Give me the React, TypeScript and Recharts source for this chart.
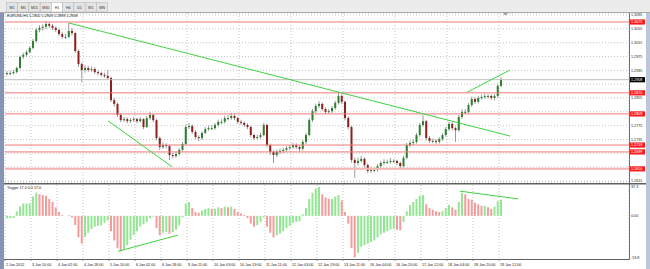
import {
  Bar,
  CartesianGrid,
  Cell,
  ComposedChart,
  ReferenceLine,
  XAxis,
  YAxis,
} from "recharts";

// EURUSD H1 (drawn as 2-hour bars), 2 Jan 18:00 -> 19 Jan 13:00
const firstOpen = 1.2925;

const closes = [
  1.2927, 1.2927, 1.293, 1.2942, 1.2974, 1.298, 1.2988, 1.3, 1.302, 1.3052,
  1.3058, 1.3061, 1.3069, 1.3064, 1.3058, 1.3052, 1.304, 1.3032, 1.3032, 1.3049,
  1.3043, 1.2991, 1.2953, 1.2936, 1.2942, 1.2936, 1.2939, 1.293, 1.2927, 1.2922,
  1.2919, 1.2913, 1.2849, 1.2838, 1.2806, 1.2791, 1.2794, 1.2788, 1.2791, 1.2794,
  1.2788, 1.2794, 1.2771, 1.2797, 1.2806, 1.2791, 1.2739, 1.2713, 1.2719, 1.2716,
  1.269, 1.2687, 1.2693, 1.2705, 1.2722, 1.2771, 1.2774, 1.2757, 1.2742, 1.2739,
  1.2754, 1.2765, 1.2768, 1.2768, 1.2777, 1.2786, 1.2786, 1.2797, 1.2797, 1.2803,
  1.2797, 1.2786, 1.2783, 1.2777, 1.2771, 1.2748, 1.2739, 1.2742, 1.2748, 1.2777,
  1.2719, 1.2699, 1.269, 1.2699, 1.2702, 1.2705, 1.271, 1.2713, 1.2719, 1.2713,
  1.2708, 1.2728, 1.2748, 1.2791, 1.2817, 1.2832, 1.2838, 1.2823, 1.2815, 1.2817,
  1.2826, 1.2841, 1.2861, 1.2844, 1.2797, 1.2771, 1.2676, 1.2667, 1.2673, 1.2679,
  1.2661, 1.2644, 1.2647, 1.2647, 1.2658, 1.2667, 1.267, 1.267, 1.2673, 1.2673,
  1.2667, 1.2658, 1.2682, 1.2719, 1.2725, 1.2728, 1.2748, 1.2777, 1.2788, 1.2739,
  1.2731, 1.2731, 1.2728, 1.2736, 1.2748, 1.2765, 1.278, 1.2768, 1.2762, 1.28,
  1.2815, 1.2815, 1.2835, 1.2852, 1.2844, 1.2855, 1.2858, 1.2861, 1.2861, 1.2855,
  1.2861, 1.289, 1.2908,
];

const highs = [
  1.2933, 1.2934, 1.2936, 1.2946, 1.2978, 1.2986, 1.2993, 1.3005, 1.3026, 1.3058,
  1.3066, 1.3068, 1.3077, 1.3075, 1.3069, 1.3062, 1.3056, 1.3046, 1.304, 1.3072,
  1.3058, 1.3047, 1.2996, 1.2958, 1.295, 1.2948, 1.2946, 1.2944, 1.2935, 1.2931,
  1.2928, 1.2936, 1.2917, 1.2855, 1.2842, 1.2812, 1.28, 1.2799, 1.2797, 1.28,
  1.2798, 1.28, 1.2797, 1.2803, 1.2815, 1.281, 1.2795, 1.2744, 1.2726, 1.2724,
  1.272, 1.2696, 1.2699, 1.271, 1.2728, 1.2778, 1.2783, 1.2779, 1.2762, 1.2747,
  1.2759, 1.2771, 1.2775, 1.2776, 1.2783, 1.2792, 1.2794, 1.2804, 1.2805, 1.2812,
  1.2808, 1.2801, 1.2792, 1.2788, 1.2782, 1.2775, 1.2752, 1.2749, 1.2755, 1.2783,
  1.2781, 1.2723, 1.2704, 1.2706, 1.2709, 1.2711, 1.2716, 1.2719, 1.2725, 1.2724,
  1.2718, 1.2734, 1.2755, 1.2797, 1.2824, 1.2839, 1.2846, 1.2842, 1.2828, 1.2824,
  1.2832, 1.2847, 1.2872, 1.2866, 1.2848, 1.2802, 1.2775, 1.2682, 1.2683, 1.2688,
  1.2684, 1.2666, 1.2655, 1.2654, 1.2664, 1.2673, 1.2678, 1.2677, 1.2681, 1.2679,
  1.2677, 1.2671, 1.2688, 1.2725, 1.2732, 1.2735, 1.2754, 1.2783, 1.2805, 1.2792,
  1.2745, 1.2738, 1.2736, 1.2742, 1.2753, 1.2771, 1.2787, 1.2785, 1.2772, 1.2806,
  1.2822, 1.2823, 1.2841, 1.2859, 1.2857, 1.2861, 1.2865, 1.2868, 1.2867, 1.2865,
  1.2867, 1.2897, 1.2916,
];

const lows = [
  1.292, 1.2921, 1.2923, 1.2926, 1.2938, 1.2968, 1.2975, 1.2984, 1.2996, 1.3015,
  1.3045, 1.305, 1.3055, 1.3058, 1.3052, 1.3046, 1.3035, 1.3027, 1.3026, 1.3028,
  1.3036, 1.2985, 1.2945, 1.2901, 1.2928, 1.293, 1.2931, 1.2925, 1.2921, 1.2917,
  1.2913, 1.2908, 1.2843, 1.283, 1.28, 1.2785, 1.2786, 1.2782, 1.2783, 1.2786,
  1.2782, 1.2784, 1.2765, 1.2768, 1.2792, 1.2785, 1.2733, 1.2705, 1.2708, 1.2709,
  1.2676, 1.268, 1.2682, 1.2688, 1.27, 1.2718, 1.2765, 1.2751, 1.2736, 1.2731,
  1.2734, 1.275, 1.276, 1.2762, 1.2763, 1.2772, 1.2779, 1.2781, 1.279, 1.2792,
  1.2791, 1.278, 1.2777, 1.2771, 1.2765, 1.2742, 1.2733, 1.2735, 1.2737, 1.2744,
  1.2712, 1.269, 1.2667, 1.2684, 1.2693, 1.2696, 1.27, 1.2704, 1.2708, 1.2707,
  1.27, 1.2703, 1.2722, 1.2744, 1.2786, 1.2811, 1.2826, 1.2817, 1.2809, 1.281,
  1.2812, 1.2821, 1.2836, 1.2838, 1.279, 1.2764, 1.2668, 1.2624, 1.266, 1.2668,
  1.2654, 1.2637, 1.2638, 1.264, 1.2642, 1.2652, 1.2662, 1.2664, 1.2665, 1.2667,
  1.2661, 1.265, 1.2654, 1.2678, 1.2713, 1.2719, 1.2723, 1.2743, 1.2772, 1.2732,
  1.2725, 1.2724, 1.2722, 1.2723, 1.2731, 1.2743, 1.276, 1.2762, 1.2728, 1.2757,
  1.2795, 1.2808, 1.281, 1.2829, 1.2838, 1.2839, 1.285, 1.2853, 1.2854, 1.2849,
  1.2848, 1.2856, 1.2886,
];

// "Trigger 17.0 0.0 17.0" histogram
const trigger = [
  -3, -3, -3, 6, 12, 16, 16, 16, 25, 30,
  28, 27, 26, 22, 18, 11, 5, 1, 0, 1,
  -2, -12, -28, -36, -27, -22, -17, -14, -13, -12,
  -9, -6, -20, -32, -42, -46, -43, -38, -31, -25,
  -20, -14, -11, -8, -3, -1, -16, -25, -22, -21,
  -23, -21, -18, -12, -2, 16, 18, 10, 5, 4,
  7, 9, 10, 9, 9, 11, 10, 12, 11, 12,
  9, 5, 3, 1, -3, -10, -14, -12, -8, -2,
  -14, -22, -28, -25, -23, -20, -16, -13, -9, -8,
  -7, 2, 10, 22, 30, 35, 37.3, 28, 24, 22,
  22, 25, 27, 20, 5, -10, -42, -53.8, -48, -40,
  -38, -36, -34, -32, -28, -24, -22, -20, -18, -17,
  -18, -19, -8, 6, 14, 18, 22, 26, 27, 15,
  10, 8, 6, 5, 6, 10, 14, 11, 8, 18,
  30, 28, 22, 21, 17, 15, 13, 13, 11, 9,
  12, 19, 21,
];

const timeLabels = [
  "2 Jan 2012", "3 Jan 10:00", "4 Jan 02:00", "4 Jan 18:00", "5 Jan 10:00",
  "6 Jan 02:00", "6 Jan 18:00", "9 Jan 11:00", "10 Jan 03:00", "10 Jan 19:00",
  "11 Jan 11:00", "12 Jan 03:00", "12 Jan 19:00", "13 Jan 11:00", "16 Jan 04:00",
  "16 Jan 20:00", "17 Jan 12:00", "18 Jan 04:00", "18 Jan 20:00", "19 Jan 12:00",
];

const priceTicks = [
  1.3095, 1.3055, 1.3015, 1.2975, 1.2935, 1.2895, 1.2855, 1.2815, 1.2775,
  1.2735, 1.2695, 1.2655, 1.2615,
];

const levels = [1.3075, 1.287, 1.2809, 1.2719, 1.2699, 1.265];
const triggerTicks = [37.3, 0, -53.8];

const priceTrendLines = [
  [{ x: 19.2, y: 1.3072 }, { x: 154.9, y: 1.2745 }],
  [{ x: 31.2, y: 1.2789 }, { x: 50.9, y: 1.2656 }],
  [{ x: 141.7, y: 1.2872 }, { x: 154.9, y: 1.2936 }],
];

const triggerTrendLines = [
  [{ x: 34.3, y: -46 }, { x: 52.7, y: -25 }],
  [{ x: 139.5, y: 32 }, { x: 157.4, y: 22 }],
];

const tabs = ["M1", "M5", "M15", "M30", "H1", "H4", "D1", "W1", "MN"];

const FONT = "'Liberation Sans', Arial, sans-serif";
const FS = 3.7;
const X_DOMAIN: [number, number] = [-0.5, 191.5];
const timeTicks = timeLabels.map((_, k) => k * 8 - 0.5);
const lastClose = closes[closes.length - 1];

const rows = closes.map((close, i) => ({
  i,
  open: i === 0 ? firstOpen : closes[i - 1],
  high: highs[i],
  low: lows[i],
  close,
  range: [lows[i], highs[i]],
}));

const triggerRows = trigger.map((v, i) => ({ i, v }));

// scale labels hidden under a price tag (as the terminal does)
function coveredByTag(v: number) {
  return [...levels, lastClose].some((p) => Math.abs(p - v) < 0.0014);
}

function Candle(props: any) {
  const { x, y, width, height, payload } = props;
  if (!payload) return null;
  const top = Math.min(y, y + height);
  const h = Math.abs(height);
  const k = h / (payload.high - payload.low || 0.0001);
  const up = payload.close >= payload.open;
  const bodyTop =
    top + (payload.high - Math.max(payload.open, payload.close)) * k;
  const bodyH = Math.max(
    1,
    Math.abs(payload.close - payload.open) * k
  );
  const cx = x + width / 2;
  return (
    <g>
      <line
        x1={cx}
        x2={cx}
        y1={top}
        y2={top + h}
        stroke="#9a9a9a"
        strokeWidth={1}
      />
      <rect
        x={x}
        y={bodyTop}
        width={width}
        height={bodyH}
        fill={up ? "#2c7f2c" : "#8c2020"}
      />
    </g>
  );
}

function PriceTick({ x, y, payload }: any) {
  const v = Number(payload.value);
  if (coveredByTag(v)) return <g />;
  return (
    <text x={x} y={y + 1.3} fontSize={FS} fill="#222" fontFamily={FONT}>
      {v.toFixed(4)}
    </text>
  );
}

function TriggerTick({ x, y, payload }: any) {
  const v = Number(payload.value);
  return (
    <text x={x} y={y + 1.3} fontSize={FS} fill="#222" fontFamily={FONT}>
      {v === 0 ? "0.00" : v.toFixed(1)}
    </text>
  );
}

function TimeTick({ x, y, payload }: any) {
  const k = Math.round((payload.value + 0.5) / 8);
  return (
    <g>
      <line x1={x} x2={x} y1={y} y2={y + 2} stroke="#555" strokeWidth={0.6} />
      <text x={x + 1} y={y + 7} fontSize={FS} fill="#222" fontFamily={FONT}>
        {timeLabels[k]}
      </text>
    </g>
  );
}

function PriceTag({ viewBox, text, fill }: any) {
  if (!viewBox) return null;
  const x = viewBox.x + viewBox.width + 1;
  const y = viewBox.y;
  return (
    <g>
      <rect x={x} y={y - 2.6} width={15} height={5.2} fill={fill} />
      <text
        x={x + 1}
        y={y + 1.3}
        fontSize={FS}
        fill="#fff"
        fontFamily={FONT}
      >
        {text}
      </text>
    </g>
  );
}

export default function App() {
  return (
    <div
      style={{
        position: "fixed",
        left: 0,
        top: 0,
        width: 650,
        height: 269,
        background: "#fff",
        overflow: "hidden",
      }}
    >
      <div style={{ position: "absolute", left: 0, top: 0 }}>
        <ComposedChart
          width={650}
          height={184}
          data={rows}
          margin={{ top: 13, right: 0, bottom: 2, left: 5 }}
        >
          <CartesianGrid stroke="#c6c6c6" strokeDasharray="1 2" />
          <XAxis
            type="number"
            dataKey="i"
            domain={X_DOMAIN}
            ticks={timeTicks}
            allowDataOverflow
            hide
          />
          <YAxis
            orientation="right"
            width={21}
            domain={[1.2612, 1.3101]}
            ticks={priceTicks}
            allowDataOverflow
            interval={0}
            tick={<PriceTick />}
            tickLine={false}
            axisLine={false}
            tickSize={0}
            tickMargin={2}
          />
          <ReferenceLine
            y={lastClose}
            stroke="#bdbdbd"
            label={<PriceTag text={lastClose.toFixed(4)} fill="#000" />}
          />
          {levels.map((p, n) => (
            <ReferenceLine
              key={p}
              y={p}
              stroke={n === levels.length - 1 ? "#f6b3b3" : "#f07a7a"}
              strokeWidth={n === levels.length - 1 ? 2 : 1}
              label={<PriceTag text={p.toFixed(4)} fill="#ff1a1a" />}
            />
          ))}
          <Bar
            dataKey="range"
            barSize={2}
            isAnimationActive={false}
            shape={(p: any) => <Candle {...p} />}
          />
          {priceTrendLines.map((seg, n) => (
            <ReferenceLine
              key={n}
              segment={seg}
              stroke="#3fd23f"
              strokeWidth={1}
              ifOverflow="visible"
            />
          ))}
        </ComposedChart>
      </div>

      <div style={{ position: "absolute", left: 0, top: 183 }}>
        <ComposedChart
          width={650}
          height={86}
          data={triggerRows}
          margin={{ top: 2, right: 0, bottom: 0, left: 5 }}
        >
          <CartesianGrid
            stroke="#c6c6c6"
            strokeDasharray="1 2"
            horizontal={false}
          />
          <XAxis
            type="number"
            dataKey="i"
            domain={X_DOMAIN}
            ticks={timeTicks}
            allowDataOverflow
            interval={0}
            height={10}
            tick={<TimeTick />}
            tickLine={false}
            axisLine={false}
            tickSize={0}
            tickMargin={0}
          />
          <YAxis
            orientation="right"
            width={21}
            domain={[-56, 40]}
            ticks={triggerTicks}
            allowDataOverflow
            interval={0}
            tick={<TriggerTick />}
            tickLine={false}
            axisLine={false}
            tickSize={0}
            tickMargin={2}
          />
          <Bar dataKey="v" barSize={2} isAnimationActive={false}>
            {trigger.map((v, i) => (
              <Cell
                key={i}
                fill={i === 0 || v >= trigger[i - 1] ? "#93e693" : "#f29c9c"}
              />
            ))}
          </Bar>
          {triggerTrendLines.map((seg, n) => (
            <ReferenceLine
              key={n}
              segment={seg}
              stroke="#3fd23f"
              strokeWidth={1}
              ifOverflow="visible"
            />
          ))}
        </ComposedChart>
      </div>

      <svg
        width={650}
        height={269}
        style={{ position: "absolute", left: 0, top: 0, pointerEvents: "none" }}
      >
        <rect x={0} y={0} width={650} height={12} fill="#ececec" />
        <line x1={0} x2={650} y1={12.5} y2={12.5} stroke="#a9a9a9" />
        {tabs.map((t, k) => (
          <g key={t}>
            <rect
              x={6.4 + k * 11.25}
              y={2.5}
              width={11.25}
              height={9.5}
              fill={t === "H1" ? "#fff" : "#e4e4e4"}
              stroke="#b4b4b4"
              strokeWidth={0.5}
            />
            <text
              x={12 + k * 11.25}
              y={8.8}
              fontSize={FS}
              textAnchor="middle"
              fill="#333"
              fontFamily={FONT}
            >
              {t}
            </text>
          </g>
        ))}
        <text x={7} y={17.4} fontSize={FS} fill="#111" fontFamily={FONT}>
          EURUSD,H1 1.2902 1.2909 1.2898 1.2908
        </text>
        <text x={7} y={189.4} fontSize={FS} fill="#111" fontFamily={FONT}>
          Trigger 17.0 0.0 17.0
        </text>
        <polygon points="503,13 508,13 505.5,15.5" fill="#9a9a9a" />
        <rect x={0} y={13} width={4} height={256} fill="#8794b6" />
        <rect x={646} y={13} width={4} height={256} fill="#bcc7dd" />
        <line x1={629.5} x2={629.5} y1={13} y2={259.5} stroke="#707070" />
        <line x1={4} x2={646} y1={183.8} y2={183.8} stroke="#606060" strokeWidth={1.5} />
        <line x1={4} x2={629.5} y1={259.5} y2={259.5} stroke="#606060" />
      </svg>
    </div>
  );
}
